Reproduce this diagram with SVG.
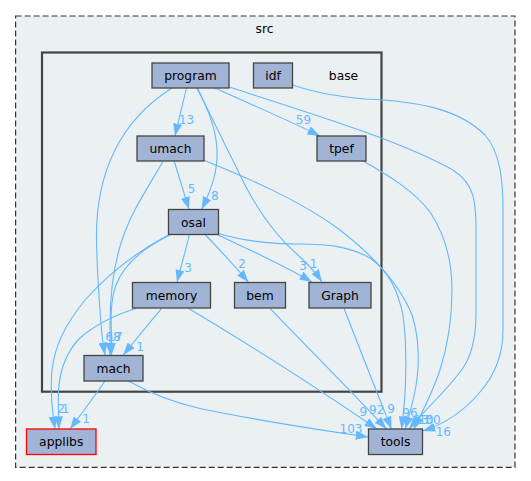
<svg xmlns="http://www.w3.org/2000/svg" width="531" height="481" viewBox="0 0 531 481">
<style>
.clu{fill:#ebf0f3;}
.outer{stroke:#333;stroke-width:1.2;stroke-dasharray:6,3;}
.inner{stroke:#444;stroke-width:2.2;}
.node rect{fill:#a2b4d6;stroke:#444;stroke-width:1.3;}
.node text{font-family:"DejaVu Sans",sans-serif;font-size:12.3px;fill:#000;text-anchor:middle;}
.ctext{font-family:"DejaVu Sans",sans-serif;font-size:12.3px;fill:#000;text-anchor:middle;}
.edges path{fill:none;stroke:#63b8ff;stroke-width:1.1;marker-end:url(#ah);}
.edges text{font-family:"DejaVu Sans",sans-serif;font-size:12px;fill:#63b8ff;text-anchor:middle;}
</style>
<defs>
<marker id="ah" viewBox="0 0 12.5 9" markerWidth="12.5" markerHeight="9" refX="12.5" refY="4.5" markerUnits="userSpaceOnUse" orient="auto">
<path d="M0,0 L12.5,4.5 L0,9 Z" fill="#63b8ff"/>
</marker>
</defs>
<rect width="531" height="481" fill="#ffffff"/>
<g id="cluster_src">
<rect class="clu outer" x="15.6" y="16" width="499.4" height="451.3"/>
<text class="ctext" x="264.5" y="32.5">src</text>
</g>
<g id="cluster_base">
<rect class="clu inner" x="42" y="52.5" width="339.5" height="339.2"/>
<text class="ctext" x="343.5" y="79.5">base</text>
</g>
<g id="edges" class="edges">
<path d="M186.5,88 C183,103 179,118 175,136"/>
<text x="186.5" y="124">13</text>
<path d="M215,88 C250,104 290,121 320,136"/>
<text x="303.5" y="124">59</text>
<path d="M229,87 C300,110 400,140 453,170 C474,184 476,200 476,230 L476,313 C476,340 470,360 460,372 C445,392 425,410 409,429"/>
<path d="M292.7,85 C310,91 330,96 365,99 C420,101 460,110 485,135 C500,152 503,180 503,210 L503,330 C503,355 495,375 480,392 C465,410 445,424 422.7,431"/>
<text x="443.3" y="436">16</text>
<path d="M363,161 C390,176 415,192 430,212 C446,236 452,262 452,290 C452,320 448,345 440,370 C432,394 422,412 414,429"/>
<path d="M203.5,160 C245,177 300,200 340,230 C375,257 400,285 412,315 C420,340 420,370 414,396 C411,409 408,420 405,429"/>
<path d="M218.3,233.5 C240,240 265,244 300,244 C330,244 350,247 370,258 C390,272 398,292 403,315 C407,345 407,390 401.5,429"/>
<path d="M218.3,235 C250,250 283,265 312,282"/>
<text x="303" y="269.5">3</text>
<path d="M197.5,88 C210,115 228,150 245,185 C262,218 280,240 300,257 C310,266 316,273 322,282"/>
<text x="313.5" y="267.5">1</text>
<path d="M196.7,88.3 C208,108 216,128 217,150 C218,172 211,190 201.7,209.3"/>
<text x="214.7" y="200">8</text>
<path d="M174.3,161.5 C179,177 184,193 189,209.3"/>
<text x="191.5" y="192.5">5</text>
<path d="M189.3,234.5 C186,250 181,266 177,282.3"/>
<text x="188" y="271.5">3</text>
<path d="M205,234.5 C220,250 234,265 248.5,282.3"/>
<text x="242" y="267.5">2</text>
<path d="M270,308.3 C310,350 350,390 386.5,429"/>
<path d="M344,308.3 C360,350 376,390 391.5,429"/>
<path d="M188.3,308.3 C250,345 320,390 377,429"/>
<text x="363.3" y="416">9</text>
<text x="376.7" y="414">92</text>
<text x="391" y="413">9</text>
<text x="410" y="416.5">96</text>
<text x="421" y="424">23</text>
<text x="426" y="424">10</text>
<text x="433" y="424">30</text>
<path d="M128.3,381 C150,393 175,403 200,408.5 C260,421 320,430 368.3,437"/>
<text x="351" y="432.5">103</text>
<path d="M105,381 C94,397 82,413 70,429"/>
<text x="86" y="422.5">1</text>
<path d="M161.7,308.3 C150,322 137,338 123.3,355"/>
<text x="140" y="350.5">1</text>
<path d="M162.7,161.7 C148,188 132,210 122,240 C112,270 110,300 110,325 C110,338 110,347 110,355"/>
<path d="M171.7,88.3 C150,102 130,120 115,150 C100,180 96,210 96.5,240 C97,270 99,300 101.5,330 C102.5,342 104,349 105,355"/>
<path d="M170,235 C145,247 125,262 116,285 C110,302 111,320 111.5,335 C111.5,343 111.5,349 111.5,355"/>
<text x="113" y="340.5">68</text>
<text x="115" y="340.5">17</text>
<path d="M168.3,235 C140,250 110,272 85,300 C65,325 55,345 52,370 C50,390 52,410 55,429"/>
<path d="M136.7,308.3 C115,315 95,325 80,338 C66,352 60,370 58.5,390 C58,405 58.5,418 59,429"/>
<text x="61" y="413">2</text>
<text x="65.5" y="413">1</text>
</g>
<g id="node_program" class="node"><rect x="152" y="63" width="77" height="25"/><text x="190.5" y="80">program</text></g>
<g id="node_idf" class="node"><rect x="253.5" y="63" width="39" height="25"/><text x="273" y="80">idf</text></g>
<g id="node_umach" class="node"><rect x="137" y="136" width="67" height="25"/><text x="170.5" y="153">umach</text></g>
<g id="node_tpef" class="node"><rect x="317" y="136" width="49" height="25"/><text x="341.5" y="153">tpef</text></g>
<g id="node_osal" class="node"><rect x="168.5" y="209.5" width="50" height="25"/><text x="193.5" y="226.5">osal</text></g>
<g id="node_memory" class="node"><rect x="132.5" y="282.5" width="78" height="25.5"/><text x="171.5" y="299.5">memory</text></g>
<g id="node_bem" class="node"><rect x="234.5" y="282.5" width="51" height="25.5"/><text x="260" y="299.5">bem</text></g>
<g id="node_Graph" class="node"><rect x="309" y="282.5" width="62" height="25.5"/><text x="340" y="299.5">Graph</text></g>
<g id="node_mach" class="node"><rect x="84" y="355.5" width="59" height="25.5"/><text x="113.5" y="372.5">mach</text></g>
<g id="node_applibs" class="node"><rect x="26.5" y="429" width="69.5" height="25.5" style="stroke:#ff0000"/><text x="61.2" y="446">applibs</text></g>
<g id="node_tools" class="node"><rect x="368.5" y="429" width="54" height="25.5"/><text x="395.5" y="446">tools</text></g>
</svg>
